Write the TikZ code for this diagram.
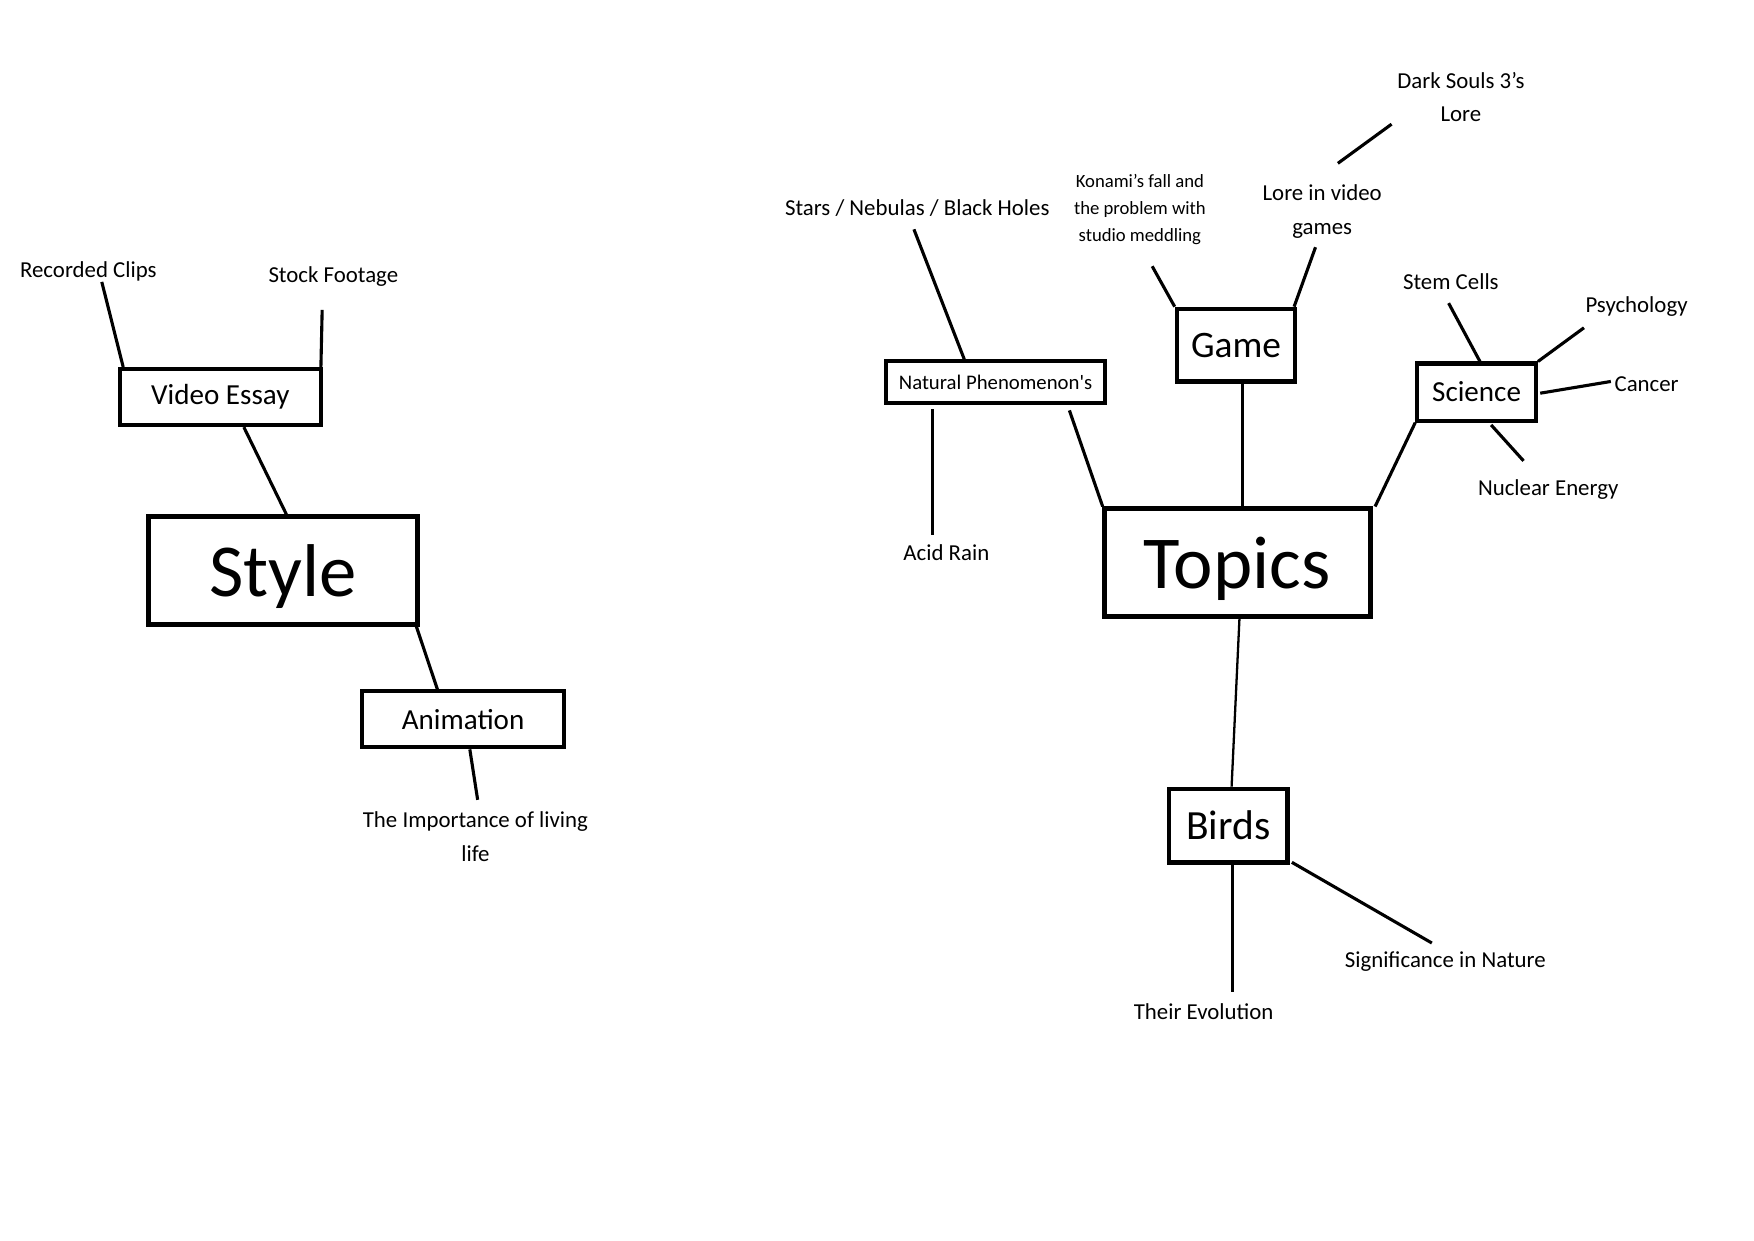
\documentclass[tikz,border=0pt]{standalone}
\usepackage{fontspec}
\setmainfont{Carlito}
\usetikzlibrary{calc}
\tikzset{
  bigbox/.style={draw=black, line width=2.4pt, inner sep=0pt, minimum height=1.818cm, text depth=0pt, font=\fontsize{36}{43}\selectfont},
  box/.style={draw=black, line width=2pt, inner sep=0pt, font=\fontsize{14}{17}\selectfont},
  lbl/.style={align=center, inner sep=0pt, font=\fontsize{11}{16}\selectfont},
  smalllbl/.style={align=center, inner sep=0pt, font=\fontsize{9}{13}\selectfont},
  link/.style={line width=1.5pt}
}

\begin{document}
\begin{tikzpicture}[x=0.018941cm, y=-0.018941cm]
\useasboundingbox (0,0) rectangle (1568,1109);
% left map
\node[bigbox, minimum width=4.546cm] (style) at (253,510) {Style};
\node[box, minimum width=3.409cm, minimum height=0.947cm] (vessay) at (197,355) {Video Essay};
\node[box, minimum width=3.409cm, minimum height=0.947cm] (anim) at (414,643) {Animation};
\node[lbl] (rclips) at (79,243) {Recorded Clips};
\node[lbl] (stock) at (298,247) {Stock Footage};
\node[lbl] (living) at (425,748) {The Importance of living\\life};
\draw[link] ($(rclips)+(12,9)$) -- ($(vessay.north west)+(5,0)$);
\draw[link] ($(stock)+(-10,30)$) -- ($(vessay.north east)+(-2,0)$);
\draw[link] ($(vessay.south)+(21,0)$) -- ($(style.north)+(3,0)$);
\draw[link] ($(style.south east)+(-3,0)$) -- ($(anim.north)+(-23,0)$);
\draw[link] ($(anim.south)+(6,0)$) -- ($(living)+(2,-33)$);
% right map
\node[bigbox, minimum width=4.508cm] (topics) at (1106,503) {Topics};
\node[box, minimum width=3.712cm, minimum height=0.701cm, text depth=0pt, font=\fontsize{10}{12}\selectfont] (natphen) at (890,341.5) {Natural Phenomenon\textquotesingle s};
\node[box, minimum width=2.008cm, minimum height=1.231cm, font=\fontsize{18}{22}\selectfont] (game) at (1105,308.5) {Game};
\node[box, minimum width=2.008cm, minimum height=0.966cm] (science) at (1320,350.5) {Science};
\node[box, minimum width=2.008cm, minimum height=1.25cm, font=\fontsize{20}{24}\selectfont] (birds) at (1098,738) {Birds};
\node[lbl] (stars) at (820,186) {Stars / Nebulas / Black Holes};
\node[lbl] (acid) at (846,494) {Acid Rain};
\node[smalllbl] (konami) at (1019,187) {Konami’s fall and\\the problem with\\studio meddling};
\node[lbl] (lore) at (1182,189) {Lore in video\\games};
\node[lbl] (dsouls) at (1306,87) {Dark Souls 3’s\\Lore};
\node[lbl] (stem) at (1297,252) {Stem Cells};
\node[lbl] (psych) at (1463,274) {Psychology};
\node[lbl] (cancer) at (1472,343) {Cancer};
\node[lbl] (nuclear) at (1384,438) {Nuclear Energy};
\node[lbl] (signif) at (1292,860) {Significance in Nature};
\node[lbl] (evol) at (1076,904) {Their Evolution};
\draw[link] ($(stars)+(-3,19)$) -- ($(natphen.north)+(-28,0)$);
\draw[link] ($(natphen.south)+(-56,4)$) -- ($(acid)+(-12,-16)$);
\draw[link] ($(natphen.south)+(66,5)$) -- ($(topics.north west)+(1,0)$);
\draw[link] ($(konami)+(11,51)$) -- (game.north west);
\draw[link] ($(lore)+(-6,32)$) -- ($(game.north east)+(-3,0)$);
\draw[link] ($(lore)+(14,-43)$) -- ($(dsouls)+(-62,24)$);
\draw[link] ($(game.south)+(6,0)$) -- ($(topics.north)+(5,0)$);
\draw[link] (science.south west) -- ($(topics.north east)+(2,0)$);
\draw[link] ($(stem)+(-2,19)$) -- ($(science.north)+(3,0)$);
\draw[link] ($(psych)+(-47,19)$) -- (science.north east);
\draw[link] ($(cancer)+(-32,-2)$) -- ($(science.east)+(2,1)$);
\draw[link] ($(nuclear)+(-22,-26)$) -- ($(science.south)+(13,2)$);
\draw[link, line width=1.1pt] ($(topics.south)+(2,0)$) -- ($(birds.north)+(3,0)$);
\draw[link] ($(birds.south)+(4,0)$) -- ($(evol)+(26,-17)$);
\draw[link] ($(birds.south east)+(2,-2)$) -- ($(signif)+(-12,-17)$);
\end{tikzpicture}
\end{document}
